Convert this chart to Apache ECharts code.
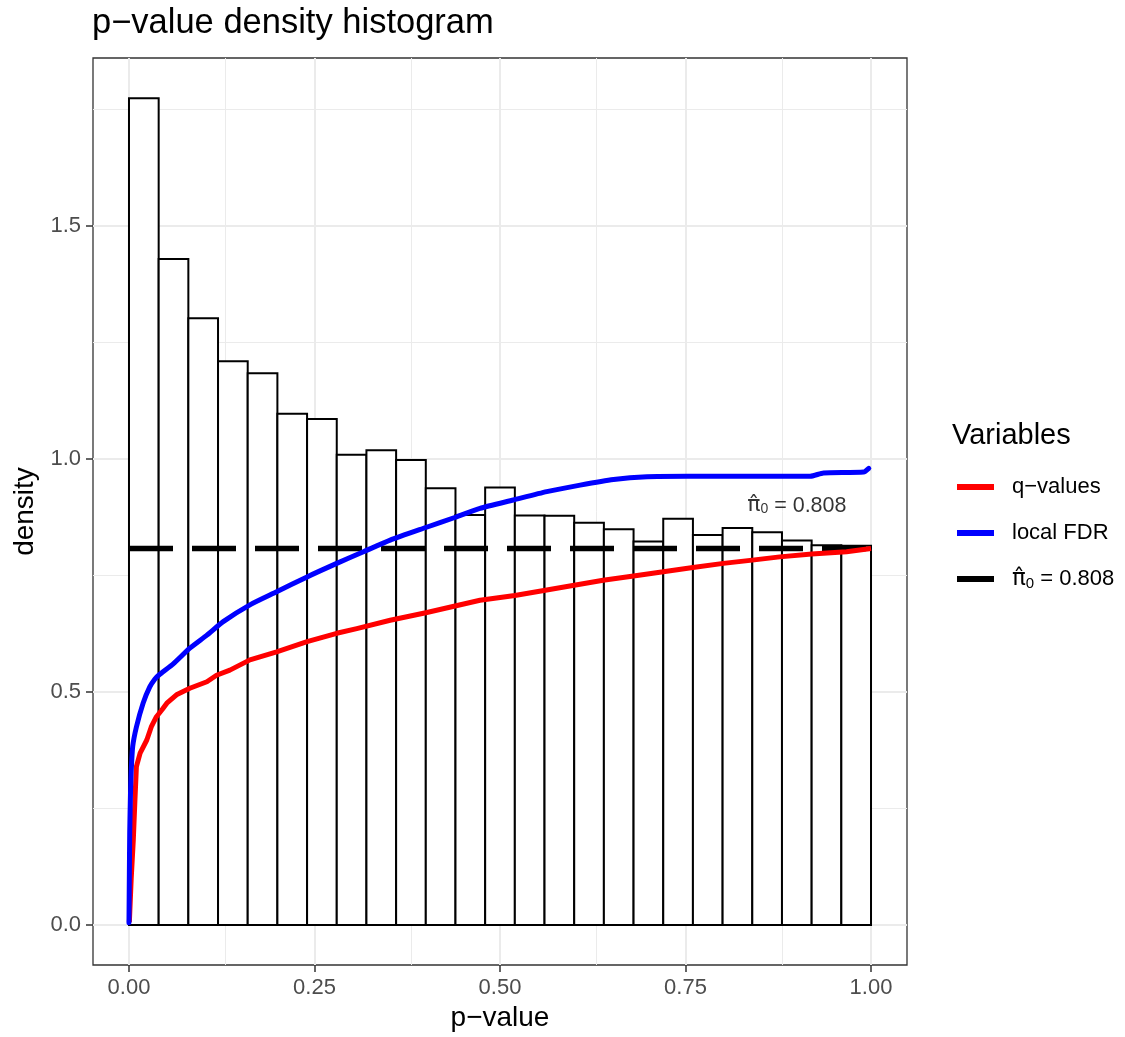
<!DOCTYPE html>
<html>
<head>
<meta charset="utf-8">
<script src="https://cdn.jsdelivr.net/npm/echarts@6/dist/echarts.min.js"></script>
<style>
  html, body { margin: 0; padding: 0; background: #ffffff; }
  #chart { width: 1125px; height: 1037px; }
</style>
</head>
<body>
<div id="chart"></div>
<script>
// ---- data ----
var binWidth = 0.04;
var binStarts = [0.00, 0.04, 0.08, 0.12, 0.16, 0.20, 0.24, 0.28, 0.32, 0.36, 0.40, 0.44, 0.48,
                 0.52, 0.56, 0.60, 0.64, 0.68, 0.72, 0.76, 0.80, 0.84, 0.88, 0.92, 0.96];
var densities = [1.774, 1.429, 1.302, 1.210, 1.184, 1.097, 1.086, 1.009, 1.019, 0.998, 0.937, 0.880, 0.939,
                 0.879, 0.878, 0.863, 0.849, 0.823, 0.872, 0.837, 0.852, 0.843, 0.825, 0.815, 0.814];

var qP = [0.0005, 0.003, 0.0058, 0.008, 0.010, 0.015, 0.024, 0.030, 0.037, 0.045, 0.051, 0.064, 0.082,
          0.105, 0.118, 0.136, 0.163, 0.199, 0.240, 0.280, 0.307, 0.352, 0.400, 0.473, 0.520, 0.563,
          0.600, 0.639, 0.680, 0.720, 0.760, 0.801, 0.840, 0.877, 0.920, 0.967, 1.000];
var qValues = [0.006, 0.10, 0.182, 0.268, 0.340, 0.369, 0.397, 0.425, 0.447, 0.463, 0.476, 0.494, 0.508,
               0.522, 0.536, 0.547, 0.569, 0.586, 0.608, 0.626, 0.636, 0.654, 0.670, 0.697, 0.707, 0.719,
               0.729, 0.740, 0.749, 0.758, 0.767, 0.776, 0.783, 0.790, 0.796, 0.801, 0.808];

var lfdrP = [0.0, 0.0005, 0.001, 0.002, 0.003, 0.005, 0.010, 0.019, 0.028, 0.035, 0.040, 0.060, 0.082,
             0.105, 0.127, 0.163, 0.199, 0.240, 0.280, 0.316, 0.352, 0.400, 0.440, 0.473, 0.518, 0.563,
             0.608, 0.653, 0.698, 0.752, 0.833, 0.918, 0.936, 0.990, 0.997];
var lfdrValues = [0.005, 0.11, 0.20, 0.28, 0.33, 0.383, 0.425, 0.476, 0.511, 0.528, 0.536, 0.561, 0.594,
                  0.622, 0.651, 0.687, 0.715, 0.747, 0.776, 0.801, 0.826, 0.853, 0.875, 0.894, 0.912, 0.930,
                  0.944, 0.956, 0.962, 0.963, 0.963, 0.963, 0.970, 0.972, 0.980];

var pi0 = 0.808;
var pi0Span = [0, 1];

var xMajor = [0, 0.25, 0.5, 0.75, 1];
var xMinor = [0.125, 0.375, 0.625, 0.875];
var xTickLabels = ['0.00', '0.25', '0.50', '0.75', '1.00'];
var yMajor = [0, 0.5, 1.0, 1.5];
var yMinor = [0.25, 0.75, 1.25, 1.75];
var yTickLabels = ['0.0', '0.5', '1.0', '1.5'];

var seriesNames = ['q\u2212values', 'local FDR', 'pi0'];
var annotPos = [0.9, 0.9];

// ---- chart ----
var FONT = "'Liberation Sans', Arial, sans-serif";
var PIFONT = "'DejaVu Sans', sans-serif";
var chart = echarts.init(document.getElementById('chart'), null, { renderer: 'canvas' });

function labelFor(values, labels) {
  return function (v) {
    for (var i = 0; i < values.length; i++) {
      if (Math.abs(values[i] - v) < 1e-6) return labels[i];
    }
    return '';
  };
}

function zip(a, b) { return a.map(function (v, i) { return [v, b[i]]; }); }

var gridLines = [];
xMinor.forEach(function (v) { gridLines.push({ xAxis: v, lineStyle: { color: '#EBEBEB', width: 1, type: 'solid' } }); });
yMinor.forEach(function (v) { gridLines.push({ yAxis: v, lineStyle: { color: '#EBEBEB', width: 1, type: 'solid' } }); });
xMajor.forEach(function (v) { gridLines.push({ xAxis: v, lineStyle: { color: '#EBEBEB', width: 2, type: 'solid' } }); });
yMajor.forEach(function (v) { gridLines.push({ yAxis: v, lineStyle: { color: '#EBEBEB', width: 2, type: 'solid' } }); });

var piLabel = '{pi|\u03C0\u0302}{sub|0}{t| = 0.808}';
var legendRich = {
  pi: { fontSize: 23, fontFamily: PIFONT, color: '#000' },
  sub: { fontSize: 15, fontFamily: FONT, color: '#000', verticalAlign: 'bottom', lineHeight: 18 },
  t: { fontSize: 22, fontFamily: FONT, color: '#000' }
};

var option = {
  animation: false,
  backgroundColor: '#ffffff',
  title: [
    {
      text: 'p\u2212value density histogram',
      left: 92, top: 6, padding: 0,
      textStyle: { fontSize: 34.5, fontWeight: 'normal', color: '#000', fontFamily: FONT, lineHeight: 35 }
    },
    {
      text: 'Variables',
      left: 952, top: 421, padding: 0,
      textStyle: { fontSize: 29, fontWeight: 'normal', color: '#000', fontFamily: FONT, lineHeight: 30 }
    }
  ],
  legend: {
    orient: 'vertical',
    left: 957, top: 475,
    padding: 0,
    itemWidth: 37, itemHeight: 6,
    itemGap: 22,
    icon: 'rect',
    data: seriesNames,
    selectedMode: false,
    formatter: function (name) {
      if (name === 'pi0') return piLabel;
      return name;
    },
    textStyle: {
      fontSize: 22, fontFamily: FONT, color: '#000', lineHeight: 24,
      padding: [0, 0, 0, 13],
      rich: legendRich
    }
  },
  grid: {
    left: 93, right: 218, top: 58, bottom: 72,
    show: true, borderColor: '#333333', borderWidth: 1.3, backgroundColor: '#ffffff',
    containLabel: false
  },
  xAxis: {
    type: 'value',
    min: -0.0485, max: 1.0485,
    name: 'p\u2212value',
    nameLocation: 'middle',
    nameGap: 38,
    nameTextStyle: { fontSize: 28, color: '#000', fontFamily: FONT },
    axisLine: { show: false, onZero: false },
    splitLine: { show: false },
    axisTick: { show: true, inside: false, length: 7, lineStyle: { color: '#333333', width: 1.5 }, customValues: xMajor },
    axisLabel: {
      customValues: xMajor,
      formatter: labelFor(xMajor, xTickLabels),
      fontSize: 22, color: '#4D4D4D', fontFamily: FONT, margin: 12
    }
  },
  yAxis: {
    type: 'value',
    min: -0.0858, max: 1.8605,
    name: 'density',
    nameLocation: 'middle',
    nameGap: 52,
    nameTextStyle: { fontSize: 28, color: '#000', fontFamily: FONT },
    axisLine: { show: false, onZero: false },
    splitLine: { show: false },
    axisTick: { show: true, inside: false, length: 7, lineStyle: { color: '#333333', width: 1.5 }, customValues: yMajor },
    axisLabel: {
      customValues: yMajor,
      formatter: labelFor(yMajor, yTickLabels),
      fontSize: 22, color: '#4D4D4D', fontFamily: FONT, margin: 12
    }
  },
  series: [
    {
      type: 'line', name: 'grid', data: [], silent: true, z: 0,
      markLine: { silent: true, z: 0, symbol: 'none', label: { show: false }, animation: false, data: gridLines }
    },
    {
      type: 'custom', name: 'histogram', z: 2, silent: true,
      data: binStarts.map(function (s, i) { return [s, densities[i]]; }),
      renderItem: function (params, api) {
        var x0 = api.value(0), d = api.value(1);
        var p1 = api.coord([x0, d]);
        var p2 = api.coord([x0 + binWidth, 0]);
        return {
          type: 'rect',
          shape: { x: p1[0], y: p1[1], width: p2[0] - p1[0], height: p2[1] - p1[1] },
          style: { fill: '#ffffff', stroke: '#000000', lineWidth: 2 }
        };
      }
    },
    {
      type: 'line', name: 'pi0', z: 3, silent: true,
      data: pi0Span.map(function (x) { return [x, pi0]; }),
      showSymbol: false, symbol: 'none',
      itemStyle: { color: '#000000' },
      lineStyle: { color: '#000000', width: 5.5, type: [44, 19], cap: 'butt' }
    },
    {
      type: 'line', name: seriesNames[0], z: 4, silent: true,
      data: zip(qP, qValues),
      showSymbol: false, symbol: 'none',
      itemStyle: { color: '#FF0000' },
      lineStyle: { color: '#FF0000', width: 5, cap: 'butt', join: 'round' }
    },
    {
      type: 'line', name: seriesNames[1], z: 5, silent: true,
      data: zip(lfdrP, lfdrValues),
      showSymbol: false, symbol: 'none', smooth: 0.2,
      itemStyle: { color: '#0000FF' },
      lineStyle: { color: '#0000FF', width: 5, cap: 'round', join: 'round' }
    },
    {
      type: 'scatter', name: 'annotation', z: 6, silent: true,
      data: [annotPos], symbolSize: 0,
      label: {
        show: true, position: 'inside', color: '#000', textBorderWidth: 0,
        formatter: piLabel,
        rich: {
          pi: { fontSize: 22, fontFamily: PIFONT, color: '#000' },
          sub: { fontSize: 14, fontFamily: FONT, color: '#000', verticalAlign: 'bottom', lineHeight: 16 },
          t: { fontSize: 21.5, fontFamily: FONT, color: '#000' }
        }
      }
    }
  ]
};
chart.setOption(option);
</script>
</body>
</html>
